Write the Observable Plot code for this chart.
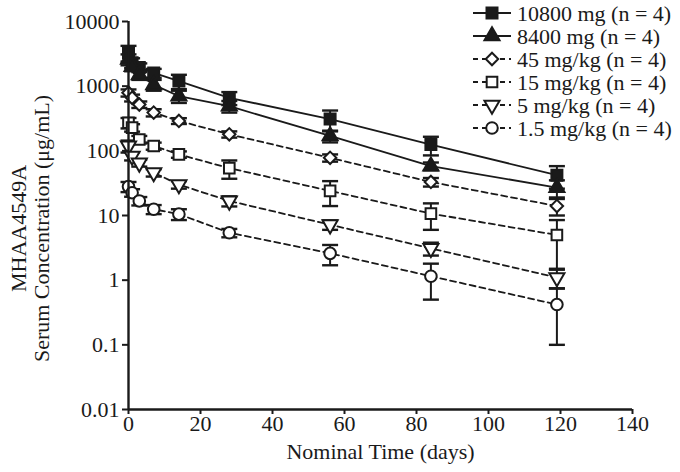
<!DOCTYPE html>
<html><head><meta charset="utf-8">
<script src="https://cdn.jsdelivr.net/npm/d3@7"></script>
<script src="https://cdn.jsdelivr.net/npm/@observablehq/plot@0.6"></script>
<style>
body{margin:0;background:#fff;}
#wrap{position:relative;width:680px;height:472px;font-family:"Liberation Serif","Times New Roman",serif;}
#wrap svg{display:block;}
#legend{position:absolute;left:0;top:0;pointer-events:none;}
</style></head><body><div id="wrap"></div>
<script>
// ---- data ----
const times = [0, 1, 3, 7, 14, 28, 56, 84, 119];
const seriesNames = ["10800 mg (n = 4)", "8400 mg (n = 4)", "45 mg/kg (n = 4)", "15 mg/kg (n = 4)", "5 mg/kg (n = 4)", "1.5 mg/kg (n = 4)"];
const mean10800 = [3300, 2300, 1950, 1600, 1200, 660, 310, 125, 42];
const sd10800   = [900, 400, 300, 250, 300, 150, 110, 40, 16];
const mean8400  = [2600, 2000, 1500, 1050, 700, 490, 170, 58, 27];
const sd8400    = [500, 300, 250, 200, 150, 100, 35, 8, 8];
const mean45    = [790, 660, 520, 390, 290, 180, 78, 33, 14];
const sd45      = [100, 80, 60, 50, 30, 20, 10, 5, 4];
const mean15    = [272, 228, 150, 119, 88, 54, 24, 10.7, 5];
const sd15      = [50, 30, 20, 15, 10, 17, 10, 4.7, 3.5];
const mean5     = [119, 83, 65, 46, 30, 16.8, 7.2, 3.1, 1.1];
const sd5       = [25, 12, 8, 6, 4, 3, 1.2, 0.7, 0.35];
const mean1p5   = [28, 22.5, 16.8, 12.5, 10.5, 5.4, 2.6, 1.15, 0.42];
const sd1p5     = [5, 3, 2.5, 2, 2, 0.8, 0.9, 0.65, 0.32];
const xTicks = [0, 20, 40, 60, 80, 100, 120, 140];
const yTicks = [0.01, 0.1, 1, 10, 100, 1000, 10000];
const yTickLabels = ["0.01", "0.1", "1", "10", "100", "1000", "10000"];
const xLabel = "Nominal Time (days)";
const yLabelLines = ["MHAA4549A", "Serum Concentration (\u03bcg/mL)"];

const means = [mean10800, mean8400, mean45, mean15, mean5, mean1p5];
const sds = [sd10800, sd8400, sd45, sd15, sd5, sd1p5];

// ---- styles ----
const sqrt3 = Math.sqrt(3);
const triUp = {draw(ctx, size){ const y = -Math.sqrt(size/(sqrt3*3)); ctx.moveTo(0, y*2); ctx.lineTo(-sqrt3*y, -y); ctx.lineTo(sqrt3*y, -y); ctx.closePath(); }};
const triDown = {draw(ctx, size){ const y = -Math.sqrt(size/(sqrt3*3)); ctx.moveTo(0, -y*2); ctx.lineTo(-sqrt3*y, y); ctx.lineTo(sqrt3*y, y); ctx.closePath(); }};
const cap = {draw(ctx, size){ const w = Math.sqrt(size/Math.PI); ctx.moveTo(-w, 0); ctx.lineTo(w, 0); }};
const styles = [
  {symbol: d3.symbolSquare, d3sym: d3.symbolSquare, fill: "black", dashed: false, r: 6.2},
  {symbol: triUp, d3sym: triUp, fill: "black", dashed: false, r: 5.6},
  {symbol: d3.symbolDiamond2, d3sym: d3.symbolDiamond2, fill: "white", dashed: true, r: 5.6},
  {symbol: d3.symbolSquare, d3sym: d3.symbolSquare, fill: "white", dashed: true, r: 6},
  {symbol: triDown, d3sym: triDown, fill: "white", dashed: true, r: 5.6},
  {symbol: d3.symbolCircle, d3sym: d3.symbolCircle, fill: "white", dashed: true, r: 5.8}
];
const DASH = "6,4";
const INK = "#1a1a1a";

const rows = [];
seriesNames.forEach((name, s) => {
  times.forEach((t, i) => {
    const v = means[s][i], sd = sds[s][i];
    rows.push({series: name, s, t, v, lo: v - sd, hi: v + sd});
  });
});

const FONT = "\"Liberation Serif\", \"Times New Roman\", serif";
const FS = 22;
const marks = [
  Plot.ruleX(rows, {x: "t", y1: "lo", y2: "hi", stroke: INK, strokeWidth: 2}),
  Plot.dot(rows, {x: "t", y: "hi", symbol: cap, r: 8, stroke: INK, strokeWidth: 2.4}),
  Plot.dot(rows, {x: "t", y: "lo", symbol: cap, r: 8, stroke: INK, strokeWidth: 2.4}),
  Plot.line(rows.filter(d => !styles[d.s].dashed), {x: "t", y: "v", z: "series", stroke: INK, strokeWidth: 1.8}),
  Plot.line(rows.filter(d => styles[d.s].dashed), {x: "t", y: "v", z: "series", stroke: INK, strokeWidth: 1.8, strokeDasharray: DASH}),
  ...styles.map((st, s) => Plot.dot(rows.filter(d => d.s === s), {
    x: "t", y: "v", symbol: st.symbol, r: st.r, fill: st.fill === "black" ? INK : "white", stroke: INK, strokeWidth: 2
  })),
  Plot.ruleX([0], {stroke: INK, strokeWidth: 2.4}),
  Plot.ruleY([0.01], {stroke: INK, strokeWidth: 2.4}),
  Plot.axisX({ticks: xTicks, tickSize: 5, tickPadding: 1, strokeWidth: 2, fontSize: FS, label: null, fill: INK}),
  Plot.axisY({ticks: yTicks, tickFormat: d => yTickLabels[yTicks.indexOf(d)], tickSize: 6, tickPadding: 3, strokeWidth: 2, fontSize: FS, label: null, fill: INK}),
  Plot.text([xLabel], {frameAnchor: "bottom", dy: 49, fontSize: FS, fill: INK, textAnchor: "middle"}),
  Plot.text([yLabelLines.join("\n")], {frameAnchor: "left", dx: -98, dy: 13, rotate: -90, fontSize: FS, lineHeight: 1.05, fill: INK, textAnchor: "middle"})
];

const chart = Plot.plot({
  width: 680, height: 472,
  marginTop: 21, marginBottom: 63, marginLeft: 128, marginRight: 48,
  style: {fontFamily: FONT, fontSize: FS + "px", color: INK, background: "white"},
  x: {domain: [0, 140]},
  y: {type: "log", domain: [0.01, 10000]},
  marks
});
const wrap = document.getElementById("wrap");
wrap.appendChild(chart);

// ---- legend overlay ----
const rowY = [13, 36, 59, 82, 105, 128];
const leg = d3.select(wrap).append("svg").attr("id", "legend").attr("width", 680).attr("height", 160)
  .style("font-family", FONT).style("font-size", FS + "px");
seriesNames.forEach((name, s) => {
  const st = styles[s];
  const g = leg.append("g").attr("transform", `translate(0,${rowY[s]})`);
  g.append("line").attr("x1", 473).attr("x2", 511).attr("y1", 0).attr("y2", 0)
    .attr("stroke", INK).attr("stroke-width", 1.8)
    .attr("stroke-dasharray", st.dashed ? "5,4" : null);
  g.append("path").attr("transform", "translate(492,0)")
    .attr("d", d3.symbol(st.d3sym, Math.PI * st.r * st.r)())
    .attr("fill", st.fill === "black" ? INK : "white").attr("stroke", INK).attr("stroke-width", 2);
  g.append("text").attr("x", 517).attr("y", 0).attr("dy", "0.35em").attr("fill", INK).text(name);
});
</script></body></html>
